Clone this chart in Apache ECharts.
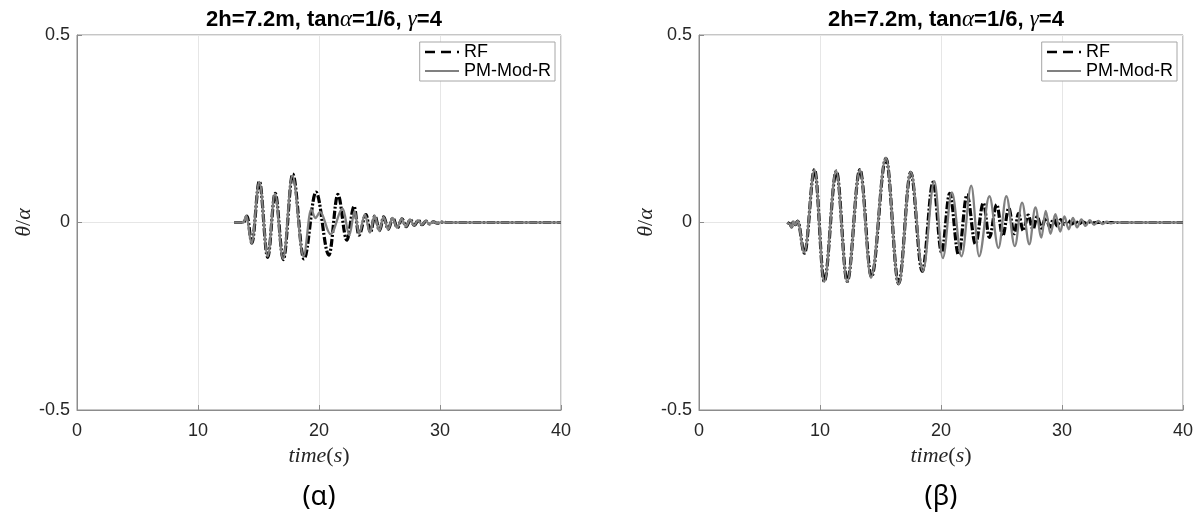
<!DOCTYPE html>
<html>
<head>
<meta charset="utf-8">
<script src="https://cdn.jsdelivr.net/npm/echarts@6/dist/echarts.min.js"></script>
<style>html,body{margin:0;padding:0;background:#fff;}#c{width:1202px;height:518px;}</style>
</head>
<body>
<div id="c"></div>
<script>
// ---- data (time [s], theta/alpha): turning points of each trace ----
const xTicks = [0, 10, 20, 30, 40];
const yTicks = [-0.5, 0, 0.5];
const seriesNames = ['RF', 'PM-Mod-R'];
const panelTitle = '2h=7.2m, tan{m|α}=1/6, {m|γ}=4';
const panelCaptions = ['(α)', '(β)'];

const leftRF = [[13.0,0],[13.75,0],[14.05,0.017],[14.45,-0.055],[15.07,0.11],[15.76,-0.093],[16.38,0.078],[17.05,-0.099],[17.83,0.129],[18.76,-0.097],[19.75,0.081],[20.82,-0.087],[21.56,0.075],[22.3,-0.047],[22.9,0.043],[23.3,-0.034],[23.88,0.021],[24.25,-0.026],[24.62,0.018],[25.0,-0.022],[25.35,0.015],[25.72,-0.018],[26.1,0.012],[26.48,-0.014],[26.86,0.01],[27.2,-0.011],[27.55,0.008],[27.88,-0.008],[28.2,0.006],[28.52,-0.006],[28.84,0.004],[29.15,-0.004],[29.46,0.002],[29.77,-0.002],[30.1,0.001],[30.5,0],[40,0]];

const leftPM = [[13.0,0],[13.75,0],[14.0,0.018],[14.42,-0.056],[15.07,0.108],[15.76,-0.09],[16.36,0.077],[17.03,-0.097],[17.8,0.125],[18.72,-0.09],[19.35,0.034],[19.7,0.012],[20.1,0.028],[20.95,-0.031],[21.97,0.037],[22.5,-0.034],[22.95,0.03],[23.3,-0.03],[23.8,0.021],[24.2,-0.027],[24.6,0.018],[24.98,-0.022],[25.33,0.015],[25.7,-0.018],[26.08,0.012],[26.45,-0.014],[26.83,0.01],[27.18,-0.011],[27.52,0.008],[27.86,-0.008],[28.18,0.006],[28.5,-0.006],[28.82,0.004],[29.13,-0.004],[29.45,0.002],[29.76,-0.002],[30.1,0.001],[30.5,0],[40,0]];

const rightRF = [[7.3,0],[7.5,-0.003],[7.65,-0.012],[7.8,0.002],[7.95,-0.006],[8.15,0.004],[8.72,-0.082],[9.55,0.141],[10.35,-0.157],[11.35,0.137],[12.25,-0.157],[13.3,0.141],[14.25,-0.145],[15.45,0.171],[16.5,-0.163],[17.5,0.134],[18.45,-0.13],[19.35,0.108],[20.05,-0.08],[20.72,0.078],[21.45,-0.086],[22.15,0.074],[22.85,-0.058],[23.5,0.052],[24.0,-0.04],[24.6,0.048],[25.1,-0.036],[25.6,0.038],[26.05,-0.03],[26.4,0.024],[26.8,-0.022],[27.2,0.02],[27.6,-0.018],[27.95,0.016],[28.3,-0.015],[28.65,0.013],[29.0,-0.012],[29.3,0.01],[29.6,-0.009],[29.9,0.008],[30.2,-0.006],[30.5,0.005],[30.8,-0.004],[31.1,0.003],[31.4,-0.003],[31.7,0.002],[32.0,-0.002],[32.3,0.001],[32.6,-0.001],[33.0,0],[40,0]];

const rightPM = [[7.3,0],[7.5,-0.004],[7.65,-0.014],[7.8,0.003],[7.95,-0.006],[8.15,0.004],[8.7,-0.08],[9.55,0.14],[10.35,-0.158],[11.33,0.138],[12.25,-0.158],[13.3,0.14],[14.22,-0.147],[15.45,0.172],[16.5,-0.165],[17.5,0.135],[18.5,-0.13],[19.45,0.11],[20.15,-0.095],[20.9,0.08],[21.7,-0.09],[22.5,0.098],[23.15,-0.09],[24.0,0.07],[24.75,-0.068],[25.4,0.07],[26.1,-0.063],[26.7,0.053],[27.3,-0.058],[27.8,0.04],[28.3,-0.04],[28.65,0.031],[29.05,-0.03],[29.45,0.022],[29.85,-0.024],[30.2,0.016],[30.55,-0.018],[30.9,0.012],[31.25,-0.013],[31.6,0.008],[31.95,-0.009],[32.3,0.006],[32.65,-0.006],[33.0,0.004],[33.35,-0.004],[33.7,0.002],[34.05,-0.002],[34.4,0.001],[34.8,0],[40,0]];

// ---- chart ----
const axisGray = '#8c8c8c';
const labelColor = '#262626';
const sans = 'Liberation Sans, Arial, sans-serif';
const serif = 'Liberation Serif, DejaVu Serif, serif';

const grids = [
  {left: 77, width: 484, top: 35, height: 375},
  {left: 699, width: 484, top: 35, height: 375}
];

function xAxisFor(i) {
  return {
    type: 'value', gridIndex: i, min: xTicks[0], max: xTicks[xTicks.length-1], interval: 10,
    name: '{i|time}({i|s})', nameLocation: 'middle', nameGap: 34,
    nameTextStyle: {fontSize: 22, color: labelColor, fontFamily: serif,
      rich: {i: {fontSize: 22, fontStyle: 'italic', fontFamily: serif, color: labelColor}}},
    axisLine: {show: true, onZero: false, lineStyle: {color: axisGray, width: 1}},
    axisTick: {show: true, inside: true, length: 5, lineStyle: {color: axisGray}},
    axisLabel: {fontSize: 18, color: labelColor, fontFamily: sans, margin: 12},
    splitLine: {show: true, lineStyle: {color: '#e6e6e6', width: 1}}
  };
}
function yAxisFor(i) {
  return {
    type: 'value', gridIndex: i, min: yTicks[0], max: yTicks[yTicks.length-1], interval: 0.5,
    name: '{i|θ}/{i|α}', nameLocation: 'middle', nameRotate: 90, nameGap: 27,
    nameTextStyle: {fontSize: 22, color: labelColor, fontFamily: serif,
      rich: {i: {fontSize: 22, fontStyle: 'italic', fontFamily: serif, color: labelColor}}},
    axisLine: {show: true, onZero: false, lineStyle: {color: axisGray, width: 1}},
    axisTick: {show: true, inside: true, length: 5, lineStyle: {color: axisGray}},
    axisLabel: {fontSize: 18, color: labelColor, fontFamily: sans, margin: 7,
      formatter: v => (v === 0 ? '0' : String(v))},
    splitLine: {show: true, lineStyle: {color: '#e6e6e6', width: 1}}
  };
}
function titleFor(i) {
  return {
    text: panelTitle, left: grids[i].left + grids[i].width / 2, top: 3, textAlign: 'center',
    textStyle: {fontSize: 22, fontWeight: 'bold', color: '#000', fontFamily: sans,
      rich: {m: {fontSize: 23, fontStyle: 'italic', fontWeight: 'normal', fontFamily: serif, color: '#000'}}}
  };
}
const hiddenMark = {opacity: 0, color: 'rgba(0,0,0,0)', borderColor: 'rgba(0,0,0,0)', borderWidth: 0};
function legendFor(i, rightPx) {
  return {
    right: rightPx, top: 42, orient: 'vertical',
    backgroundColor: '#fff', borderColor: '#a6a6a6', borderWidth: 1, borderRadius: 0,
    padding: [1, 4, 1, 4], itemGap: 1, itemWidth: 34, itemHeight: 18,
    textStyle: {fontSize: 18, color: '#000', fontFamily: sans},
    data: [
      {name: seriesNames[0], itemStyle: hiddenMark, lineStyle: {type: [10, 6], width: 2.6, color: '#000'}},
      {name: seriesNames[1], itemStyle: hiddenMark, lineStyle: {width: 2, color: '#808080'}}
    ]
  };
}
function lineSeries(name, data, i, style) {
  return {
    type: 'line', name: name, xAxisIndex: i, yAxisIndex: i, data: data,
    showSymbol: false, symbol: 'none', smooth: 0.36, smoothMonotone: 'x',
    lineStyle: style, animation: false, silent: true
  };
}

const rfStyle = {color: '#000', width: 3.2, type: [8, 2, 2, 2]};
const pmStyle = {color: '#808080', width: 2.3, type: 'solid'};

const option = {
  backgroundColor: '#fff',
  animation: false,
  title: [titleFor(0), titleFor(1)],
  grid: grids.map(g => Object.assign({show: true, borderColor: axisGray, borderWidth: 1, backgroundColor: 'transparent'}, g)),
  xAxis: [xAxisFor(0), xAxisFor(1)],
  yAxis: [yAxisFor(0), yAxisFor(1)],
  legend: [legendFor(0, 1202 - 555), legendFor(1, 1202 - 1177)],
  color: ['#000', '#808080'],
  series: [
    lineSeries(seriesNames[0], leftRF, 0, rfStyle),
    lineSeries(seriesNames[1], leftPM, 0, pmStyle),
    lineSeries(seriesNames[0], rightRF, 1, rfStyle),
    lineSeries(seriesNames[1], rightPM, 1, pmStyle)
  ],
  graphic: panelCaptions.map((t, i) => ({
    type: 'text', x: grids[i].left + grids[i].width / 2, y: 497,
    style: {text: t, fontSize: 27, fontFamily: 'Noto Sans, DejaVu Sans, sans-serif', fill: '#000',
      align: 'center', verticalAlign: 'middle'}
  }))
};

const chart = echarts.init(document.getElementById('c'), null, {renderer: 'canvas'});
chart.setOption(option);
</script>
</body>
</html>
